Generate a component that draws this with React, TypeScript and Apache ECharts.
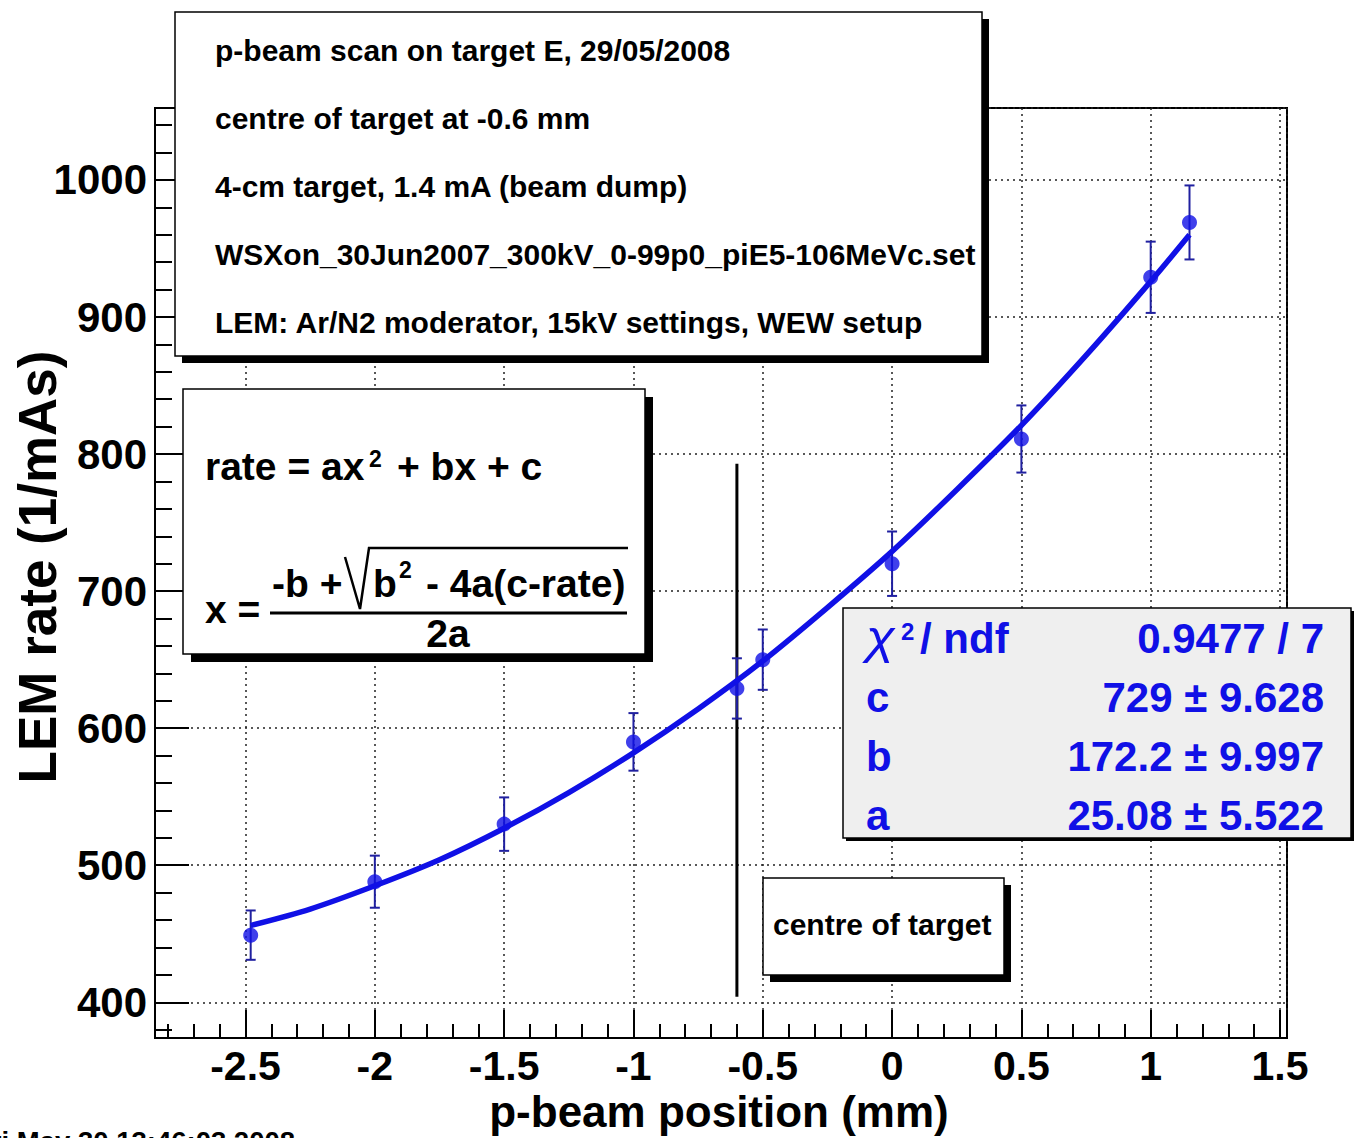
import React, { useEffect, useRef } from "react";
import * as echarts from "echarts";

// ---- data ----
const positions = [-2.48, -2, -1.5, -1, -0.6, -0.5, 0, 0.5, 1, 1.15];
const rates = [449, 488, 530, 590, 629, 650, 720, 811, 929, 969];
const rateErrors = [18, 19, 19.5, 21, 22, 22, 23.5, 24.5, 26, 27];

// fitted curve as seen in the picture
const fitX = [-2.48, -2.25, -2, -1.75, -1.5, -1.25, -1, -0.75, -0.5, -0.25, 0, 0.25, 0.5, 0.75, 1, 1.15];
const fitY = [456, 468, 485, 504, 527, 553, 582, 614, 649, 688, 729, 774, 821, 872, 926, 960];

// vertical "centre of target" marker
const centreLineX = [-0.6, -0.6];
const centreLineY = [404, 793];

const infoLines = [
  "p-beam scan on target E, 29/05/2008",
  "centre of target at -0.6 mm",
  "4-cm target, 1.4 mA (beam dump)",
  "WSXon_30Jun2007_300kV_0-99p0_piE5-106MeVc.set",
  "LEM: Ar/N2 moderator, 15kV settings, WEW setup",
];
const chiValue = "0.9477 / 7";
const statLabels = ["c", "b", "a"];
const statValues = ["729 \u00b1 9.628", "172.2 \u00b1 9.997", "25.08 \u00b1 5.522"];
const xTitle = "p-beam position (mm)";
const yTitle = "LEM rate (1/mAs)";
const dateText = "Fri May 30 13:46:03 2008";

const FF = '"Liberation Sans", Arial, Helvetica, sans-serif';
const BLUE = "#1010e6";
const ERR = "#2020a0";

function txt(text: string, x: number, base: number, size: number, opt: any = {}) {
  const align = opt.align || "left";
  return {
    type: "text",
    x,
    y: base - 0.35 * size,
    rotation: opt.rotation || 0,
    scaleX: opt.scaleX || 1,
    z: opt.z || 120,
    style: {
      text,
      font: `${opt.style || "normal"} ${opt.weight || "bold"} ${size}px ${FF}`,
      fill: opt.fill || "#000",
      align,
      textAlign: align,
      verticalAlign: "middle",
      textVerticalAlign: "middle",
    },
  };
}

function box(x: number, y: number, w: number, h: number, off: number, fill: string, z = 100) {
  return [
    { type: "rect", z, shape: { x: x + off, y: y + off, width: w, height: h }, style: { fill: "#000" } },
    { type: "rect", z: z + 1, shape: { x, y, width: w, height: h }, style: { fill, stroke: "#000", lineWidth: 1.5 } },
  ];
}

export default function App() {
  const ref = useRef<HTMLDivElement>(null);
  useEffect(() => {
    if (!ref.current) return;
    const chart = echarts.init(ref.current, null, { renderer: "svg" });

    const graphics: any[] = [];
    // info box
    graphics.push(...box(175, 12, 807, 344, 7, "#fff"));
    infoLines.forEach((l, i) => graphics.push(txt(l, 215, 61 + i * 68, 30)));
    // formula box
    graphics.push(...box(183, 389, 462, 265, 8, "#fff"));
    graphics.push(txt("rate = ax", 205, 480, 39));
    graphics.push(txt("2", 369, 467, 23));
    graphics.push(txt("+ bx + c", 397, 480, 39));
    graphics.push(txt("x =", 205, 623, 39));
    graphics.push(txt("-b +", 272, 597, 39));
    graphics.push({
      type: "polyline",
      z: 120,
      shape: { points: [[345, 557], [360, 609], [369, 548], [628, 548]] },
      style: { stroke: "#000", lineWidth: 2.5, fill: "none" },
    });
    graphics.push(txt("b", 373, 597, 39));
    graphics.push(txt("2", 399, 578, 23));
    graphics.push(txt("- 4a(c-rate)", 426, 597, 39));
    graphics.push({
      type: "line",
      z: 120,
      shape: { x1: 270, y1: 613, x2: 627, y2: 613 },
      style: { stroke: "#000", lineWidth: 3 },
    });
    graphics.push(txt("2a", 448, 647, 39, { align: "center" }));
    // stats box
    graphics.push(...box(843, 608, 508, 230, 3, "#efefef"));
    graphics.push(txt("\u03c7", 866, 653, 46, { fill: BLUE, weight: "normal", style: "italic", scaleX: 1.15 }));
    graphics.push(txt("2", 901, 640, 24, { fill: BLUE }));
    graphics.push(txt("/ ndf", 920, 653, 42, { fill: BLUE }));
    graphics.push(txt(chiValue, 1324, 653, 42, { fill: BLUE, align: "right" }));
    statLabels.forEach((l, i) => {
      graphics.push(txt(l, 866, 712 + i * 59, 42, { fill: BLUE }));
      graphics.push(txt(statValues[i], 1324, 712 + i * 59, 42, { fill: BLUE, align: "right" }));
    });
    // centre of target box
    graphics.push(...box(763, 878, 241, 97, 7, "#fff"));
    graphics.push(txt("centre of target", 773, 935, 30));
    // axis titles
    graphics.push(txt(xTitle, 719, 1127, 44, { align: "center" }));
    graphics.push({
      type: "text",
      x: 37,
      y: 567,
      rotation: Math.PI / 2,
      z: 120,
      style: {
        text: yTitle,
        font: `bold 53px ${FF}`,
        fill: "#000",
        align: "center",
        textAlign: "center",
        verticalAlign: "middle",
        textVerticalAlign: "middle",
      },
    });
    graphics.push(txt(dateText, -26, 1151, 27.5));

    const axisCommon = {
      type: "value",
      axisLine: { show: true, onZero: false, lineStyle: { color: "#000", width: 2 } },
      splitLine: { show: true, lineStyle: { color: "#222", width: 1.5, type: [2, 4] } },
    };

    const option: any = {
      animation: false,
      backgroundColor: "#fff",
      grid: {
        left: 155,
        right: 67,
        top: 108,
        bottom: 100,
        show: true,
        borderColor: "#000",
        borderWidth: 2,
        backgroundColor: "transparent",
        containLabel: false,
        outerBoundsMode: "none",
      },
      xAxis: {
        ...axisCommon,
        min: -2.85,
        max: 1.527,
        splitNumber: 9,
        axisTick: { show: true, inside: true, length: 28, lineStyle: { color: "#000", width: 2 } },
        minorTick: { show: true, splitNumber: 5, length: 14, lineStyle: { color: "#000", width: 2 } },
        axisLabel: {
          show: true,
          margin: 7,
          fontSize: 41,
          fontWeight: "bold",
          fontFamily: FF,
          color: "#000",
          formatter: (v: number) => (Math.abs(v * 2 - Math.round(v * 2)) < 1e-6 ? String(v) : ""),
        },
      },
      yAxis: {
        ...axisCommon,
        min: 373.95,
        max: 1052.5,
        splitNumber: 7,
        axisTick: { show: true, inside: true, length: 34, lineStyle: { color: "#000", width: 2 } },
        minorTick: { show: true, splitNumber: 5, length: 17, lineStyle: { color: "#000", width: 2 } },
        axisLabel: {
          show: true,
          margin: 8,
          fontSize: 42,
          fontWeight: "bold",
          fontFamily: FF,
          color: "#000",
          formatter: (v: number) => (Math.abs(v / 100 - Math.round(v / 100)) < 1e-6 ? String(v) : ""),
        },
      },
      series: [
        {
          type: "line",
          data: centreLineX.map((x, i) => [x, centreLineY[i]]),
          symbol: "none",
          lineStyle: { color: "#000", width: 3 },
          z: 2,
        },
        {
          type: "custom",
          data: positions.map((x, i) => [x, rates[i], rateErrors[i]]),
          encode: { x: 0, y: 1 },
          z: 3,
          renderItem: (_p: any, api: any) => {
            const x = api.value(0);
            const y = api.value(1);
            const e = api.value(2);
            const t = api.coord([x, y + e]);
            const b = api.coord([x, y - e]);
            const cap = 5;
            const st = { stroke: ERR, lineWidth: 2 };
            return {
              type: "group",
              children: [
                { type: "line", shape: { x1: t[0], y1: t[1], x2: b[0], y2: b[1] }, style: st },
                { type: "line", shape: { x1: t[0] - cap, y1: t[1], x2: t[0] + cap, y2: t[1] }, style: st },
                { type: "line", shape: { x1: b[0] - cap, y1: b[1], x2: b[0] + cap, y2: b[1] }, style: st },
              ],
            };
          },
        },
        {
          type: "scatter",
          data: positions.map((x, i) => [x, rates[i]]),
          symbol: "circle",
          symbolSize: 15,
          itemStyle: { color: BLUE },
          z: 4,
        },
        {
          type: "line",
          data: fitX.map((x, i) => [x, fitY[i]]),
          smooth: 0.3,
          symbol: "none",
          lineStyle: { color: BLUE, width: 5.5 },
          z: 5,
        },
      ],
      graphic: { elements: graphics },
    };
    chart.setOption(option);
    return () => chart.dispose();
  }, []);
  return (
    <div
      ref={ref}
      style={{ position: "fixed", left: 0, top: 0, width: 1354, height: 1138, background: "#fff" }}
    />
  );
}
